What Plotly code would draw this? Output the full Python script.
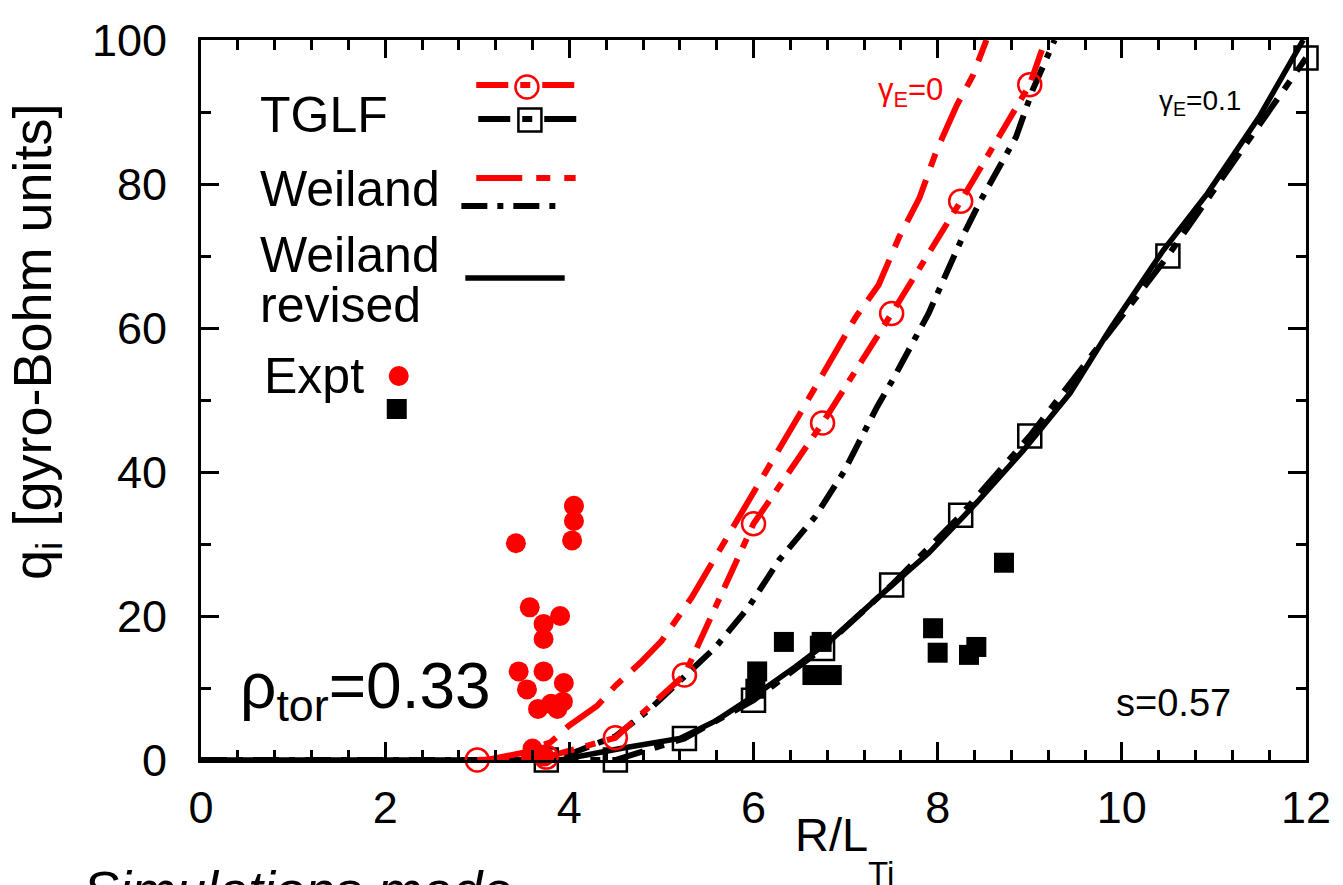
import plotly.graph_objects as go

# ---------------- data ----------------
# TGLF, gamma_E = 0 (red open circles)
tglf0_x = [3.0, 3.75, 4.5, 5.25, 6.0, 6.75, 7.5, 8.25, 9.0]
tglf0_y = [0.0, 0.4, 3.1, 11.8, 32.8, 46.8, 62.0, 77.6, 93.8]
tglf0_line_x = [3.0, 3.75, 4.5, 5.25, 6.0, 6.75, 7.5, 8.25, 9.0, 9.17]
tglf0_line_y = [0.0, 0.4, 3.1, 11.8, 32.8, 46.8, 62.0, 77.6, 93.8, 100.0]

# TGLF, gamma_E = 0.1 (black open squares)
tglf1_x = [3.75, 4.5, 5.25, 6.0, 6.75, 7.5, 8.25, 9.0, 10.5, 12.0]
tglf1_y = [0.0, 0.0, 3.0, 8.3, 15.5, 24.3, 34.0, 45.0, 70.0, 97.5]

# Weiland, gamma_E = 0 (red long-dash short-dash)
weil0_x = [3.1, 3.5, 3.8, 4.0, 4.3, 4.5, 4.77, 5.0, 5.33, 6.0, 6.5, 7.11, 7.36, 7.58, 7.8, 7.99, 8.21, 8.38, 8.53]
weil0_y = [0.0, 1.0, 2.5, 4.8, 7.5, 10.3, 13.5, 16.5, 22.6, 37.0, 48.0, 61.5, 66.0, 72.6, 78.0, 84.7, 91.0, 95.0, 100.0]

# Weiland, gamma_E = 0.1 (black dash-dot)
weil1_x = [0.0, 3.8, 4.0, 4.5, 4.87, 5.28, 5.59, 5.95, 6.28, 6.67, 6.98, 7.34, 7.52, 7.9, 8.1, 8.29, 8.47, 8.66, 8.85, 9.03, 9.27]
weil1_y = [0.0, 0.0, 0.8, 3.3, 7.0, 12.0, 15.7, 21.3, 27.8, 33.8, 40.0, 49.0, 53.0, 62.0, 68.0, 73.2, 77.8, 82.0, 86.5, 93.0, 100.0]

# Weiland revised, gamma_E = 0.1 (black solid)
weilr_x = [0.0, 3.9, 4.6, 5.2, 5.6, 6.05, 6.46, 6.87, 7.39, 7.9, 8.42, 8.93, 9.44, 9.88, 10.45, 10.93, 11.49, 11.97]
weilr_y = [0.0, 0.0, 1.7, 3.0, 5.5, 9.3, 13.0, 17.0, 23.0, 28.7, 35.7, 43.0, 51.0, 60.0, 70.8, 78.7, 89.3, 100.0]

# Experiment, red filled circles
expt_red_x = [4.05, 4.05, 4.03, 3.42, 3.57, 3.90, 3.72, 3.72, 3.45, 3.72, 3.94, 3.54, 3.66, 3.80, 3.93, 3.87, 3.60, 3.73]
expt_red_y = [35.3, 33.2, 30.5, 30.1, 21.2, 20.0, 18.9, 16.8, 12.3, 12.3, 10.7, 9.8, 7.1, 7.8, 8.1, 7.1, 1.6, 0.5]

# Experiment, black filled squares
expt_blk_x = [6.04, 6.02, 6.33, 6.74, 6.64, 6.85, 7.95, 8.0, 8.34, 8.42, 8.72]
expt_blk_y = [12.3, 9.9, 16.4, 16.4, 11.8, 11.8, 18.3, 14.9, 14.6, 15.7, 27.4]

x_ticks = [0, 2, 4, 6, 8, 10, 12]
y_ticks = [0, 20, 40, 60, 80, 100]

# ---------------- styles ----------------
RED = "#ff0000"
BLK = "#000000"
FONT = "Liberation Sans, Arial, Helvetica, sans-serif"
DASH_TGLF = "32px,12px,10px,12px"
DASH_W0 = "46px,14px,14px,14px"
DASH_W1 = "26px,10px,6px,10px"
LW = 6

# plot-area box in page pixels (used only to place layout items)
PX_L, PX_R, PX_T, PX_B = 201, 1313, 40, 760

fig = go.Figure()

# main curves
fig.add_trace(go.Scatter(x=weilr_x, y=weilr_y, mode="lines",
                         line=dict(color=BLK, width=5.5), showlegend=False))
fig.add_trace(go.Scatter(x=tglf1_x, y=tglf1_y, mode="lines",
                         line=dict(color=BLK, width=LW, dash=DASH_TGLF), showlegend=False))
fig.add_trace(go.Scatter(x=weil1_x, y=weil1_y, mode="lines",
                         line=dict(color=BLK, width=LW, dash=DASH_W1), showlegend=False))
fig.add_trace(go.Scatter(x=weil0_x, y=weil0_y, mode="lines",
                         line=dict(color=RED, width=LW, dash=DASH_W0), showlegend=False))
fig.add_trace(go.Scatter(x=tglf0_line_x, y=tglf0_line_y, mode="lines",
                         line=dict(color=RED, width=LW, dash=DASH_TGLF), showlegend=False))

# markers
fig.add_trace(go.Scatter(x=tglf1_x, y=tglf1_y, mode="markers", cliponaxis=False,
                         marker=dict(symbol="square-open", size=23, color=BLK, line=dict(width=2.5)),
                         showlegend=False))
fig.add_trace(go.Scatter(x=tglf0_x, y=tglf0_y, mode="markers", cliponaxis=False,
                         marker=dict(symbol="circle-open", size=23, color=RED, line=dict(width=2.5)),
                         showlegend=False))
fig.add_trace(go.Scatter(x=expt_red_x, y=expt_red_y, mode="markers", cliponaxis=False,
                         marker=dict(symbol="circle", size=20, color=RED), showlegend=False))
fig.add_trace(go.Scatter(x=expt_blk_x, y=expt_blk_y, mode="markers", cliponaxis=False,
                         marker=dict(symbol="square", size=20, color=BLK), showlegend=False))

# ---------------- hand-made legend (pixel overlay axes) ----------------
def legend_line(x0, x1, y, color, dash, width=LW):
    fig.add_trace(go.Scatter(x=[x0, x1], y=[y, y], mode="lines", xaxis="x2", yaxis="y2",
                             cliponaxis=False, line=dict(color=color, width=width, dash=dash),
                             showlegend=False, hoverinfo="skip"))

def legend_marker(x, y, symbol, color, size, lw=2.5):
    fig.add_trace(go.Scatter(x=[x], y=[y], mode="markers", xaxis="x2", yaxis="y2",
                             cliponaxis=False,
                             marker=dict(symbol=symbol, size=size, color=color, line=dict(width=lw, color=color)),
                             showlegend=False, hoverinfo="skip"))

legend_line(478, 578, 85, RED, DASH_TGLF)
legend_marker(529, 87, "circle-open", RED, 23)
legend_line(480, 580, 119, BLK, DASH_TGLF)
legend_marker(532, 120, "square-open", BLK, 23)
legend_line(478, 578, 178, RED, DASH_W0)
legend_line(463, 565, 206, BLK, DASH_W1)
legend_line(467, 567, 278, BLK, "solid", 5.5)
legend_marker(400, 376, "circle", RED, 20, 0)
legend_marker(398, 409, "square", BLK, 20, 0)


def text(px, py, s, size, color=BLK, xanchor="left", angle=0, italic=False):
    # place by page pixel position, converted to paper coordinates
    xp = (px - PX_L) / (PX_R - PX_L)
    yp = (PX_B - py) / (PX_B - PX_T)
    fig.add_annotation(x=xp, y=yp, xref="paper", yref="paper", text=s, showarrow=False,
                       xanchor=xanchor, yanchor="middle", textangle=angle,
                       font=dict(family=FONT, size=size, color=color,
                                 style="italic" if italic else "normal"))

text(258, 115, "TGLF", 50)
text(258, 189, "Weiland", 50)
text(258, 255, "Weiland", 50)
text(258, 305, "revised", 50)
text(262, 376, "Expt", 50)

# in-plot labels
text(915, 92, "γ<sub>E</sub>=0", 31, RED, "center")
text(1206, 102, "γ<sub>E</sub>=0.1", 28, BLK, "center")
text(1180, 703, "s=0.57", 38, BLK, "center")
text(238, 690, "ρ<sub>tor</sub>=0.33", 64, BLK, "left")

# axis titles
text(835, 834, "R/L", 47, BLK, "center")
text(885, 874, "Ti", 33, BLK, "center")
text(35, 342, "q<sub>i</sub> [gyro-Bohm units]", 54, BLK, "center", angle=-90)

# cut-off caption
text(80, 890, "Simulations made", 54, BLK, "left", italic=True)

axis_common = dict(showline=True, linewidth=3, linecolor=BLK, mirror="allticks",
                   ticks="inside", ticklen=18, tickwidth=3, tickcolor=BLK,
                   showgrid=False, zeroline=False,
                   tickfont=dict(family=FONT, size=45, color=BLK))

fig.update_layout(
    width=1343, height=885,
    margin=dict(l=PX_L, r=1343 - PX_R, t=PX_T, b=885 - PX_B),
    plot_bgcolor="white", paper_bgcolor="white",
    xaxis=dict(range=[0, 12], tickvals=x_ticks, ticktext=[str(v) for v in x_ticks],
               minor=dict(dtick=0.4, tick0=0, ticks="inside", ticklen=10, tickwidth=2.5, tickcolor=BLK),
               ticklabelstandoff=6, **axis_common),
    yaxis=dict(range=[0, 100], tickvals=y_ticks, ticktext=[str(v) for v in y_ticks],
               minor=dict(dtick=10, tick0=0, ticks="inside", ticklen=10, tickwidth=2.5, tickcolor=BLK),
               ticklabelstandoff=22, **axis_common),
    xaxis2=dict(overlaying="x", range=[PX_L, PX_R], visible=False, anchor="y2", fixedrange=True),
    yaxis2=dict(overlaying="y", range=[PX_B, PX_T], visible=False, anchor="x2", fixedrange=True),
    showlegend=False,
)

fig.write_html("out.html")
